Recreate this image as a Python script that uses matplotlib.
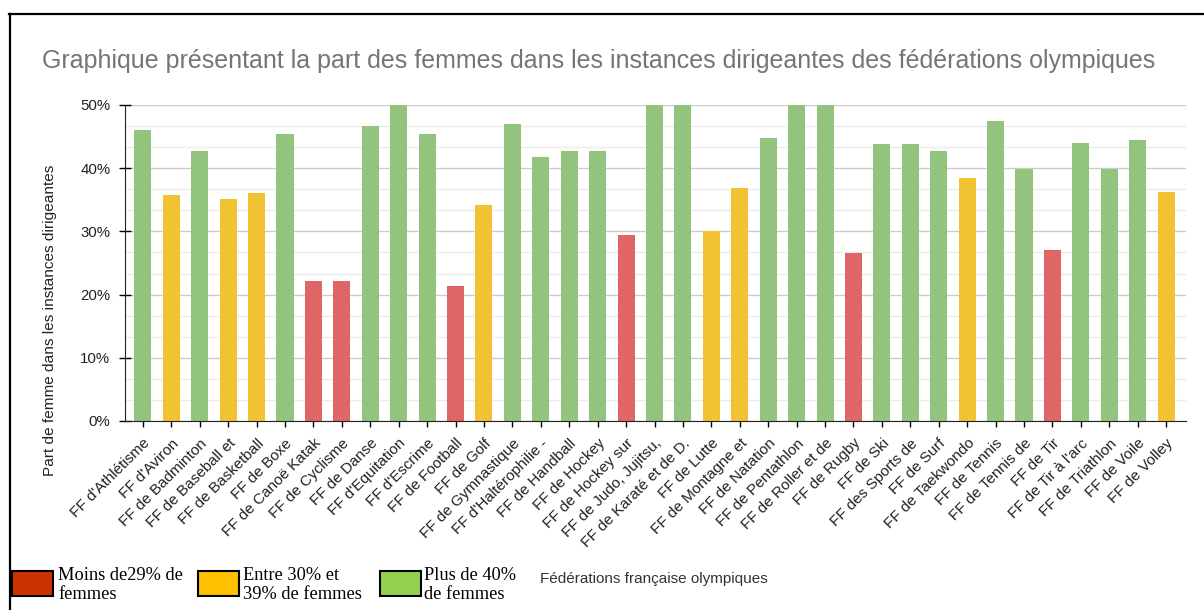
import matplotlib
matplotlib.use("Agg")
import matplotlib.pyplot as plt
from matplotlib.patches import Rectangle
from matplotlib.lines import Line2D
from matplotlib.ticker import MultipleLocator, PercentFormatter

federations = [
    "FF d'Athlétisme", "FF d'Aviron", "FF de Badminton", "FF de Baseball et",
    "FF de Basketball", "FF de Boxe", "FF de Canoë Katak", "FF de Cyclisme",
    "FF de Danse", "FF d'Equitation", "FF d'Escrime", "FF de Football",
    "FF de Golf", "FF de Gymnastique", "FF d'Haltérophilie -", "FF de Handball",
    "FF de Hockey", "FF de Hockey sur", "FF de Judo, Jujitsu,", "FF de Karaté et de D.",
    "FF de Lutte", "FF de Montagne et", "FF de Natation", "FF de Pentathlon",
    "FF de Roller et de", "FF de Rugby", "FF de Ski", "FF des Sports de",
    "FF de Surf", "FF de Taekwondo", "FF de Tennis", "FF de Tennis de",
    "FF de Tir", "FF de Tir à l'arc", "FF de Triathlon", "FF de Voile", "FF de Volley",
]
part_femmes = [
    0.460, 0.357, 0.427, 0.351, 0.361, 0.454, 0.221, 0.221, 0.466, 0.500,
    0.454, 0.213, 0.342, 0.470, 0.417, 0.427, 0.427, 0.294, 0.500, 0.500,
    0.300, 0.369, 0.448, 0.500, 0.500, 0.266, 0.438, 0.438, 0.427, 0.385,
    0.474, 0.399, 0.270, 0.440, 0.399, 0.444, 0.363,
]
y_ticks = [0, 0.1, 0.2, 0.3, 0.4, 0.5]
legend_labels = ["Moins de29% de\nfemmes", "Entre 30% et\n39% de femmes", "Plus de 40%\nde femmes"]

BAR_RED, BAR_YEL, BAR_GRN = "#E06666", "#F1C232", "#93C47D"
LEG_RED, LEG_YEL, LEG_GRN = "#CC3300", "#FFC000", "#92D050"

def bar_color(v):
    if v < 0.295:
        return BAR_RED
    if v < 0.395:
        return BAR_YEL
    return BAR_GRN

colors = [bar_color(v) for v in part_femmes]

W, H = 1204, 610
fig = plt.figure(figsize=(W / 100, H / 100), dpi=100)
fig.patch.set_facecolor("white")

def fx(px):
    return px / W

def fy(py):
    return 1 - py / H

ax = fig.add_axes([fx(125), fy(421), fx(1186) - fx(125), fy(105) - fy(421)])
x = list(range(len(federations)))
ax.bar(x, part_femmes, width=0.6, color=colors, zorder=3)
ax.set_xlim(-0.63, len(federations) - 0.3)
ax.set_ylim(0, 0.5)
ax.set_yticks(y_ticks)
ax.yaxis.set_major_formatter(PercentFormatter(1.0, decimals=0))
ax.yaxis.set_minor_locator(MultipleLocator(0.1 / 3))
ax.grid(axis="y", which="major", color="#cccccc", linewidth=1.0, zorder=0)
ax.grid(axis="y", which="minor", color="#ebebeb", linewidth=1.0, zorder=0)
ax.set_xticks(x)
ax.set_xticklabels(federations, rotation=45, ha="right", rotation_mode="anchor",
                   fontsize=11.0, color="#222222", family="Liberation Sans")
for lab in ax.get_yticklabels():
    lab.set_family("Liberation Sans")
ax.tick_params(axis="y", which="major", direction="inout", length=9, width=1,
               labelsize=10.8, labelcolor="#222222", pad=6)
ax.tick_params(axis="y", which="minor", length=0)
ax.tick_params(axis="x", direction="inout", length=8, width=1, pad=7)
for s in ["top", "right"]:
    ax.spines[s].set_visible(False)
ax.spines["left"].set_color("#222222")
ax.spines["bottom"].set_color("#222222")
ax.spines["left"].set_zorder(4)
ax.spines["bottom"].set_zorder(4)

fig.text(0.4975, fy(61), "Graphique présentant la part des femmes dans les instances dirigeantes des fédérations olympiques",
         ha="center", va="center", fontsize=18.0, color="#757575", family="Liberation Sans")
fig.text(fx(50), fy(320), "Part de femme dans les instances dirigeantes", rotation=90,
         ha="center", va="center", fontsize=11.1, color="#222222", family="Liberation Sans")
fig.text(fx(654), fy(579), "Fédérations française olympiques", ha="center", va="center",
         fontsize=11.0, color="#333333", family="Liberation Sans")

# outer frame (top and left borders)
fig.add_artist(Line2D([fx(9), 1.0], [fy(14), fy(14)], color="black", linewidth=1.6))
fig.add_artist(Line2D([fx(9.5), fx(9.5)], [fy(14), 0.0], color="black", linewidth=1.6))

# custom legend
legend_boxes = [(12, LEG_RED, 58), (198, LEG_YEL, 243), (380, LEG_GRN, 424)]
for (bx, col, tx), lab in zip(legend_boxes, legend_labels):
    fig.add_artist(Rectangle((fx(bx), fy(596)), fx(41), fy(571) - fy(596),
                             facecolor=col, edgecolor="black", linewidth=1.5))
    fig.text(fx(tx), fy(585), lab, ha="left", va="center", fontsize=13.2,
             family="Liberation Serif", color="black", linespacing=1.15)

fig.savefig("out.png", dpi=100)
